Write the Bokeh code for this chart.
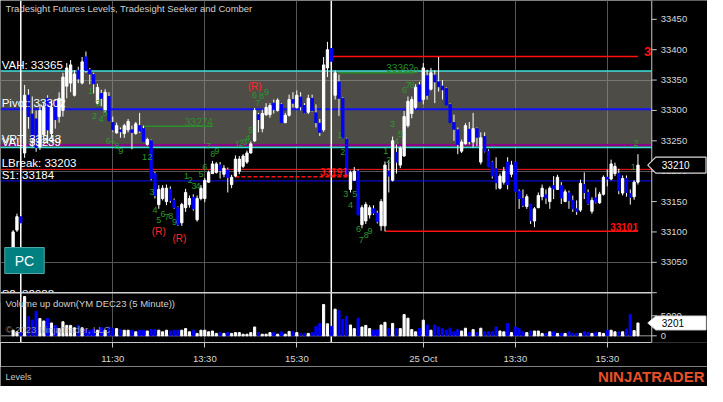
from bokeh.plotting import figure
from bokeh.layouts import column
from bokeh.models import Range1d, FixedTicker, Label, ColumnDataSource
from bokeh.core.properties import value
from bokeh.embed import file_html
from bokeh.resources import INLINE

FONT = "Liberation Sans"

# ---- 5-minute bars: 0-2 end of previous session, 3-83 = 24 Oct 09:35-16:15, 84-163 = 25 Oct ----
opens = [33075, 33103, 33125,
         33230, 33325, 33294, 33286, 33240, 33260, 33320, 33262, 33315, 33290, 33300, 33340, 33345, 33325,
         33366, 33345, 33388, 33367, 33359, 33312, 33328, 33300, 33323, 33280, 33263, 33268, 33262, 33268,
         33268, 33262, 33275, 33270, 33244, 33250, 33196, 33145, 33155, 33150, 33170, 33152, 33140, 33115,
         33140, 33145, 33157, 33120, 33155, 33155, 33182, 33196, 33198, 33210, 33195, 33202, 33178, 33192,
         33200, 33208, 33215, 33230, 33250, 33293, 33270, 33293, 33293, 33312, 33300, 33310, 33280, 33292,
         33318, 33305, 33322, 33308, 33297, 33320, 33296, 33279, 33268, 33370, 33402,
         33325, 33347, 33320, 33253, 33170, 33185, 33200, 33112, 33118, 33128, 33138, 33131, 33110, 33110,
         33200, 33185, 33231, 33210, 33225, 33275, 33295, 33305, 33342, 33318, 33357, 33335, 33358, 33347,
         33340, 33336, 33310, 33280, 33268, 33233, 33245, 33269, 33248, 33270, 33215, 33257, 33233, 33215,
         33204, 33172, 33182, 33215, 33195, 33215, 33167, 33155, 33142, 33146, 33118, 33140, 33158, 33161,
         33150, 33176, 33170, 33176, 33150, 33164, 33152, 33138, 33136, 33178, 33165, 33134, 33156, 33148,
         33162, 33190, 33187, 33196, 33196, 33164, 33188, 33163, 33158, 33182]
highs = [33103, 33130, 33127,
         33342, 33335, 33323, 33300, 33310, 33312, 33325, 33315, 33318, 33330, 33362, 33378, 33383, 33366,
         33372, 33388, 33397, 33370, 33362, 33344, 33334, 33335, 33330, 33290, 33280, 33272, 33278, 33286,
         33275, 33281, 33296, 33275, 33255, 33252, 33199, 33177, 33177, 33178, 33175, 33155, 33142, 33148,
         33171, 33160, 33162, 33160, 33177, 33189, 33201, 33217, 33215, 33215, 33210, 33206, 33194, 33226,
         33225, 33228, 33234, 33249, 33304, 33296, 33301, 33312, 33312, 33318, 33320, 33312, 33296, 33326,
         33330, 33333, 33330, 33312, 33326, 33326, 33310, 33286, 33388, 33413, 33405,
         33366, 33359, 33322, 33255, 33201, 33207, 33203, 33144, 33149, 33144, 33144, 33135, 33154, 33216,
         33218, 33257, 33244, 33241, 33299, 33323, 33323, 33343, 33347, 33378, 33367, 33370, 33366, 33388,
         33350, 33338, 33312, 33293, 33272, 33252, 33279, 33281, 33296, 33272, 33264, 33264, 33236, 33217,
         33223, 33196, 33207, 33223, 33217, 33216, 33170, 33170, 33162, 33146, 33141, 33165, 33178, 33170,
         33175, 33192, 33194, 33182, 33170, 33168, 33160, 33152, 33186, 33198, 33170, 33157, 33173, 33166,
         33193, 33203, 33219, 33214, 33204, 33193, 33193, 33170, 33185, 33228]
lows = [33068, 33100, 33112,
        33222, 33270, 33240, 33232, 33235, 33250, 33245, 33255, 33270, 33280, 33290, 33320, 33330, 33323,
        33345, 33343, 33362, 33343, 33328, 33310, 33307, 33296, 33283, 33265, 33262, 33255, 33255, 33264,
        33236, 33260, 33263, 33248, 33242, 33185, 33155, 33138, 33152, 33144, 33148, 33138, 33110, 33110,
        33133, 33140, 33135, 33117, 33152, 33149, 33181, 33196, 33196, 33188, 33190, 33165, 33172, 33190,
        33195, 33205, 33212, 33229, 33248, 33264, 33264, 33291, 33288, 33295, 33298, 33280, 33279, 33290,
        33305, 33303, 33300, 33295, 33294, 33298, 33272, 33258, 33265, 33355, 33375,
        33318, 33291, 33255, 33192, 33165, 33185, 33128, 33106, 33113, 33122, 33128, 33114, 33102, 33101,
        33165, 33183, 33196, 33205, 33224, 33272, 33287, 33302, 33315, 33310, 33318, 33333, 33312, 33331,
        33318, 33309, 33280, 33250, 33228, 33230, 33244, 33244, 33239, 33241, 33211, 33231, 33207, 33188,
        33170, 33170, 33178, 33170, 33190, 33167, 33138, 33141, 33138, 33113, 33108, 33139, 33152, 33146,
        33138, 33154, 33169, 33146, 33149, 33138, 33133, 33128, 33133, 33154, 33145, 33130, 33147, 33146,
        33160, 33175, 33185, 33192, 33162, 33160, 33158, 33145, 33153, 33178]
closes = [33100, 33125, 33115,
          33325, 33290, 33254, 33239, 33300, 33305, 33268, 33305, 33285, 33320, 33355, 33370, 33375, 33360,
          33352, 33380, 33366, 33360, 33344, 33338, 33320, 33330, 33283, 33268, 33275, 33265, 33275, 33282,
          33264, 33278, 33266, 33249, 33252, 33188, 33160, 33170, 33172, 33172, 33152, 33140, 33112, 33145,
          33165, 33155, 33138, 33155, 33172, 33185, 33198, 33212, 33212, 33201, 33205, 33190, 33190, 33220,
          33220, 33225, 33230, 33245, 33300, 33285, 33295, 33305, 33308, 33302, 33317, 33280, 33292, 33318,
          33312, 33325, 33306, 33296, 33320, 33300, 33280, 33264, 33375, 33400, 33381,
          33362, 33320, 33255, 33195, 33198, 33200, 33128, 33140, 33145, 33140, 33131, 33117, 33150, 33210,
          33192, 33250, 33215, 33238, 33290, 33315, 33318, 33338, 33315, 33370, 33325, 33362, 33347, 33339,
          33334, 33309, 33280, 33269, 33244, 33248, 33275, 33249, 33270, 33256, 33255, 33233, 33207, 33192,
          33181, 33192, 33200, 33178, 33210, 33167, 33155, 33144, 33158, 33119, 33138, 33160, 33172, 33156,
          33172, 33171, 33190, 33156, 33166, 33152, 33138, 33134, 33180, 33165, 33147, 33152, 33149, 33162,
          33190, 33187, 33212, 33208, 33168, 33188, 33165, 33157, 33182, 33210]
volumes = [1400, 1000, 800,
           9800, 4800, 3900, 6100, 4300, 3700, 4300, 3200, 2600, 1800, 3500, 2600, 2600, 2000,
           2600, 2000, 1700, 1400, 1700, 1400, 2000, 1400, 2200, 1800, 1800, 1550, 1400, 1400,
           1400, 1000, 1400, 1400, 1200, 1550, 1550, 1400, 1000, 1400, 1200, 1400, 1400, 1400,
           1800, 1000, 1400, 600, 1400, 1400, 1000, 1200, 600, 800, 600, 800, 600, 800,
           800, 400, 400, 800, 2200, 800, 400, 400, 800, 800, 400, 1000, 400, 1100,
           1000, 800, 600, 600, 600, 800, 2350, 3100, 7800, 3000, 2350,
           6650, 6260, 4100, 4900, 2700, 1800, 4400, 2200, 2600, 1800, 1400, 1500, 2700, 3360,
           1800, 3100, 1800, 1800, 5300, 4400, 1550, 1000, 1800, 3900, 2700, 1400, 2700, 2200,
           1800, 1400, 1900, 1000, 1550, 1200, 1900, 800, 1550, 800, 1900, 1000, 1000, 1000,
           2200, 1200, 1000, 3100, 800, 2200, 1800, 1000, 800, 1200, 1200, 1200, 600, 600,
           1000, 1000, 600, 600, 600, 1000, 600, 600, 600, 1000, 800, 600, 800, 800,
           600, 1400, 1400, 1000, 1000, 1000, 1650, 5300, 1300, 3201]

# time axis
x_ticks = [26, 50, 74, 107, 131, 155]
x_tick_labels = ["11:30", "13:30", "15:30", "25 Oct", "13:30", "15:30"]
session_end_bars = [2, 83]

# price axis / grid
price_ticks = [33050, 33100, 33150, 33200, 33250, 33300, 33350, 33400, 33450]
grid_prices = [33050, 33200, 33350]
vol_ticks = [0, 5000]

# Tradesight levels
level_names = ["VAH", "Pivot", "VAL", "VPT", "LBreak", "S1", "S2"]
level_values = [33365, 33302, 33239, 33243, 33203, 33184, 32988]
level_colors = ["#3fe0e0", "#1010ff", "#3fe0e0", "#8a008a", "#ff1a1a", "#1010ff", "#1010ff"]
level_widths = [1.5, 2, 1.5, 2, 1, 1, 1]
value_area = (33239, 33365)

# partial level lines (start bar, end bar, price)
seg_start = [34.2, 84.7, 83.5, 97.0, 58.0]
seg_end = [52.1, 104.6, 163.0, 163.0, 87.3]
seg_price = [33274, 33362, 33389, 33101, 33191]
seg_color = ["#2a8f2a", "#2a8f2a", "#ff1010", "#ff1010", "#ff1010"]
seg_dash = ["solid", "solid", "solid", "solid", "4 2"]
seg_label_x = [52.1, 104.6, 164.6, 163.0, 87.3]
seg_label_align = ["right", "right", "left", "right", "right"]
seg_label_style = ["normal", "normal", "bold", "bold", "bold"]
seg_label_size = ["10px", "10px", "13px", "10px", "10px"]

# Seeker / Comber counts
seek_x = [20.2, 21.2, 22.2, 23.0, 24.0, 24.8, 26.0, 27.1, 28.1,
          34.3, 35.7, 36.2, 37.0, 38.0, 39.1, 40.1, 41.1, 42.1,
          45.2, 46.2, 47.2, 48.2, 49.0, 50.0, 51.0, 52.1, 53.1,
          58.5, 59.5, 60.5, 61.2, 62.0, 63.0, 63.8, 64.8, 66.1,
          85.2, 86.0, 86.8, 88.0, 89.1, 90.1, 90.8, 92.1, 93.1,
          97.2, 98.0, 99.0, 100.0, 101.0, 102.1, 103.1, 104.1, 105.1,
          161.8, 162.5]
seek_y = [33332, 33291, 33312, 33286, 33296, 33250, 33245, 33241, 33233,
          33223, 33223, 33166, 33136, 33119, 33130, 33125, 33127, 33117,
          33192, 33185, 33176, 33176, 33195, 33207, 33241, 33228, 33233,
          33245, 33247, 33248, 33255, 33268, 33325, 33313, 33323, 33331,
          33260, 33231, 33163, 33144, 33163, 33105, 33087, 33095, 33102,
          33233, 33219, 33277, 33250, 33261, 33334, 33342, 33342, 33366,
          33207, 33247]
seek_t = ["1", "2", "3", "4", "5", "6", "7", "8", "9"] * 6 + ["1", "2"]
r_x = [38.0, 43.4, 63.0]
r_y = [33100, 33089, 33340]

# ---- geometry ----
W, H_MAIN, H_FOOT, FRAME_H = 707, 366, 20, 344
x_left, x_right, x_end = -3.29, 166.6, 181.14      # x_right = price-axis line, beyond = axis strip
y_bot, y_top = 32918, 33481
panel_split = 33000          # boundary price panel / volume panel
vol_zero = 32929             # where volume 0 sits in price coordinates
vol_per_price = 5000 / 33.0  # volume units per price unit
bx = (x_end - x_left) / W    # bars per pixel
py = (y_top - y_bot) / FRAME_H  # price units per pixel

src = ColumnDataSource(dict(
    x=list(range(len(opens))), o=opens, h=highs, l=lows, c=closes, v=volumes,
    top=[max(a, b) for a, b in zip(opens, closes)],
    bottom=[min(a, b) for a, b in zip(opens, closes)],
    color=["#ffffff" if c >= o else "#0000ff" for o, c in zip(opens, closes)],
))

p = figure(width=W, height=H_MAIN, output_backend="svg", toolbar_location=None,
           x_range=Range1d(x_left, x_end), y_range=Range1d(y_bot, y_top),
           y_axis_location=None, background_fill_color="black", border_fill_color="black",
           min_border_left=0, min_border_top=0, min_border_right=0, min_border_bottom=H_MAIN - FRAME_H)
p.outline_line_color = None
p.extra_y_ranges = {"vol": Range1d((y_bot - vol_zero) * vol_per_price, (y_top - vol_zero) * vol_per_price)}

# x axis
xa = p.xaxis[0]
xa.ticker = FixedTicker(ticks=x_ticks)
xa.major_label_overrides = {t: s for t, s in zip(x_ticks, x_tick_labels)}
xa.bounds = (x_left, x_right)
xa.axis_line_color = "#c8c8c8"
xa.major_tick_line_color = "#c8c8c8"
xa.major_tick_out = 5
xa.major_tick_in = 0
xa.minor_tick_line_color = None
xa.major_label_text_color = "#d8d8d8"
xa.major_label_text_font = FONT
xa.major_label_text_font_size = "9.5px"
xa.major_label_standoff = 5

p.xgrid.ticker = FixedTicker(ticks=x_ticks)
p.xgrid.grid_line_color = "#555555"
p.ygrid.ticker = FixedTicker(ticks=grid_prices)
p.ygrid.grid_line_color = "#555555"

# value area
p.quad(left=[x_left], right=[x_right], bottom=[value_area[0]], top=[value_area[1]],
       fill_color="#9a988c", fill_alpha=0.5, line_color=None)

# full-width level lines (those inside the price panel)
vis = [i for i, v in enumerate(level_values) if v >= panel_split]
p.segment(x0=[x_left] * len(vis), x1=[x_right] * len(vis), y0=[level_values[i] for i in vis],
          y1=[level_values[i] for i in vis], line_color=[level_colors[i] for i in vis],
          line_width=[level_widths[i] for i in vis])

# session break lines
p.segment(x0=session_end_bars, x1=session_end_bars, y0=[y_bot] * 2, y1=[y_top] * 2,
          line_color="white", line_width=1.5)

# partial level lines
for xs, xe, pr, col, dash in zip(seg_start, seg_end, seg_price, seg_color, seg_dash):
    p.line(x=[xs, xe], y=[pr, pr], line_color=col, line_width=1.5, line_dash=dash)

# candles
p.segment(x0="x", x1="x", y0="l", y1="h", line_color="white", line_width=1, source=src)
p.vbar(x="x", width=0.6, top="top", bottom="bottom", fill_color="color", line_color="color", source=src)

# on-chart labels
p.text(x=[x_left + 0.3] * len(level_names), y=level_values,
       text=[f"{n}: {v}" for n, v in zip(level_names, level_values)],
       text_font=value(FONT), text_font_size="11.5px", text_color="white",
       text_baseline="bottom", text_align="left")
for lx, pr, col, al, st, sz in zip(seg_label_x, seg_price, seg_color, seg_label_align,
                                   seg_label_style, seg_label_size):
    p.text(x=[lx], y=[pr + 1], text=[str(pr)], text_font=value(FONT), text_font_size=sz,
           text_color=col, text_align=al, text_baseline="bottom", text_font_style=st)
p.text(x=seek_x, y=seek_y, text=seek_t, text_font=value(FONT), text_font_size="9px",
       text_color="#2a9a2a", text_align="center", text_baseline="middle")
p.text(x=r_x, y=r_y, text=["(R)"] * len(r_x), text_font=value(FONT), text_font_size="10px",
       text_color="#ff2a2a", text_align="center", text_baseline="middle")

# hide text overflowing into the volume panel
p.quad(left=[x_left], right=[14], bottom=[32984], top=[panel_split], fill_color="black", line_color=None)
p.segment(x0=session_end_bars[:1], x1=session_end_bars[:1], y0=[32984], y1=[panel_split],
          line_color="white", line_width=1.5)

# panel separator and volume zero line
p.segment(x0=[x_left, x_left], x1=[x_right, x_right], y0=[panel_split, vol_zero], y1=[panel_split, vol_zero],
          line_color=["#d0d0d0", "#9a9a9a"], line_width=[1.5, 1])

# volume bars
p.vbar(x="x", width=0.55, top="v", bottom=0, fill_color="color", line_color="color",
       source=src, y_range_name="vol")

# ---- right axis strip ----
p.quad(left=[x_right], right=[x_end], bottom=[y_bot], top=[y_top], fill_color="black", line_color=None)
p.segment(x0=[x_right], x1=[x_right], y0=[y_bot], y1=[y_top], line_color="#c8c8c8", line_width=1)
tick_pos = price_ticks + [panel_split] + [vol_zero + v / vol_per_price for v in vol_ticks]
tick_lab = [str(v) for v in price_ticks] + [""] + [str(v) for v in vol_ticks]
p.segment(x0=[x_right] * len(tick_pos), x1=[x_right + 5 * bx] * len(tick_pos), y0=tick_pos, y1=tick_pos,
          line_color="#c8c8c8", line_width=1)
p.text(x=[x_right + 9 * bx] * len(tick_pos), y=tick_pos, text=tick_lab, text_font=value(FONT),
       text_font_size="9.5px", text_color="#d8d8d8", text_baseline="middle", text_align="left")

# last price / last volume markers
last_price, last_vol = closes[-1], volumes[-1]
hp = 8 * py
p.patch(x=[x_right - 4 * bx, x_right + 4 * bx, x_end - 1.5 * bx, x_end - 1.5 * bx, x_right + 4 * bx],
        y=[last_price, last_price + hp, last_price + hp, last_price - hp, last_price - hp],
        fill_color="black", line_color="#d8d8d8", line_width=1.2)
p.text(x=[x_right + 10 * bx], y=[last_price], text=[str(last_price)], text_font=value(FONT),
       text_font_size="10px", text_color="white", text_baseline="middle")
hv = 7 * py * vol_per_price
p.patch(x=[x_right - 4 * bx, x_right + 4 * bx, x_end - 1.5 * bx, x_end - 1.5 * bx, x_right + 4 * bx],
        y=[last_vol, last_vol + hv, last_vol + hv, last_vol - hv, last_vol - hv],
        fill_color="white", line_color="#d8d8d8", line_width=1, y_range_name="vol")
p.text(x=[x_right + 10 * bx], y=[last_vol], text=[str(last_vol)], text_font=value(FONT),
       text_font_size="10px", text_color="black", text_baseline="middle", y_range_name="vol")

# ---- in-frame screen labels ----
def lab(x, y, text, **kw):
    opts = dict(x=x, y=y, x_units="screen", y_units="screen", text=text, text_font=FONT,
                text_font_size="9.5px", text_color="#d0d0d0", text_baseline="middle")
    opts.update(kw)
    p.add_layout(Label(**opts))

lab(5, 334, "Tradesight Futures Levels, Tradesight Seeker and Comber")
lab(5, 39, "Volume up down(YM DEC23 (5 Minute))")
lab(5, 13, "\u00a9 2023 NinjaTrader, LLC", text_color="#b0b0b0", text_alpha=0.8)
lab(24, 82, "PC", text_font_size="14px", text_color="white", text_align="center",
    background_fill_color="#008080", border_line_color="#4fa8a8",
    padding=dict(left=10, right=10, top=5, bottom=5))

# ---- footer ----
foot = figure(width=W, height=H_FOOT, output_backend="svg", toolbar_location=None,
              x_range=Range1d(0, W), y_range=Range1d(0, H_FOOT), x_axis_location=None,
              y_axis_location=None, background_fill_color="black", border_fill_color="black",
              min_border=0)
foot.outline_line_color = None
foot.grid.visible = False
foot.text(x=[5], y=[H_FOOT / 2], text=["Levels"], text_font=value(FONT), text_font_size="9px",
          text_color="#c8c8c8", text_baseline="middle")
foot.text(x=[W - 3], y=[H_FOOT / 2], text=["NINJATRADER"], text_font=value(FONT), text_font_size="15px",
          text_font_style="bold", text_color="#e8502a", text_baseline="middle", text_align="right")

open("out.html", "w").write(file_html(column(p, foot, spacing=0), INLINE))
